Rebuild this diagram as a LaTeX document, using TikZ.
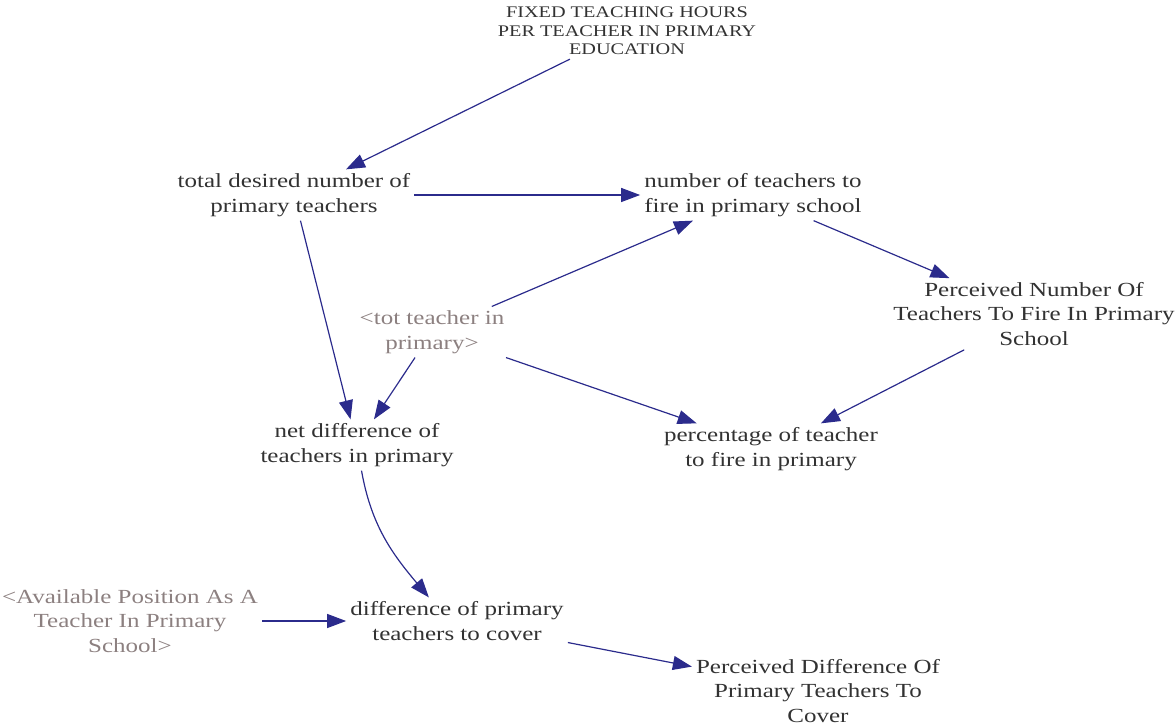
\documentclass[tikz,border=0pt]{standalone}
\usepackage{fontspec}
\setmainfont{Liberation Serif}[FakeStretch=1.25]
\usetikzlibrary{arrows.meta}
\definecolor{linkblue}{RGB}{43,43,140}
\definecolor{vartext}{RGB}{50,50,50}
\definecolor{shadowtext}{RGB}{140,128,128}
\tikzset{
  var/.style={align=center, text=vartext, font=\fontsize{20}{24.5}\selectfont, inner sep=4pt},
  shadowvar/.style={var, text=shadowtext},
  constvar/.style={var, font=\fontsize{16.2}{18.5}\selectfont},
  link/.style={draw=linkblue, line width=1.2pt, -{Triangle[length=19pt,width=14pt]}}
}
\begin{document}
\begin{tikzpicture}[x=1pt,y=1pt]
\useasboundingbox (0,0) rectangle (1175,-727);

\node[constvar] (fixed) at (627,-31) {FIXED TEACHING HOURS\\PER TEACHER IN PRIMARY\\EDUCATION};
\node[var] (total) at (294,-195) {total desired number of\\primary teachers};
\node[var] (fire) at (753,-195) {number of teachers to\\fire in primary school};
\node[var] (pfire) at (1034,-314) {Perceived Number Of\\Teachers To Fire In Primary\\School};
\node[shadowvar] (tot) at (432,-332) {<tot teacher in\\primary>};
\node[var] (net) at (357,-445) {net difference of\\teachers in primary};
\node[var] (pct) at (771,-449) {percentage of teacher\\to fire in primary};
\node[shadowvar] (avail) at (130,-621) {<Available Position As A\\Teacher In Primary\\School>};
\node[var] (diff) at (457,-621) {difference of primary\\teachers to cover};
\node[var] (pdiff) at (818,-691) {Perceived Difference Of\\Primary Teachers To\\Cover};

\draw[link] (fixed) -- (total);
\draw[link] (total) -- (fire);
\draw[link] (total) -- (net);
\draw[link] (tot) -- (net);
\draw[link] (tot) -- (fire);
\draw[link] (tot) -- (pct);
\draw[link] (fire) -- (pfire);
\draw[link] (pfire) -- (pct);
\draw[link] (net.-80) to[out=-80,in=130] (diff.140);
\draw[link] (avail) -- (diff);
\draw[link] (diff) -- (pdiff);
\end{tikzpicture}
\end{document}
